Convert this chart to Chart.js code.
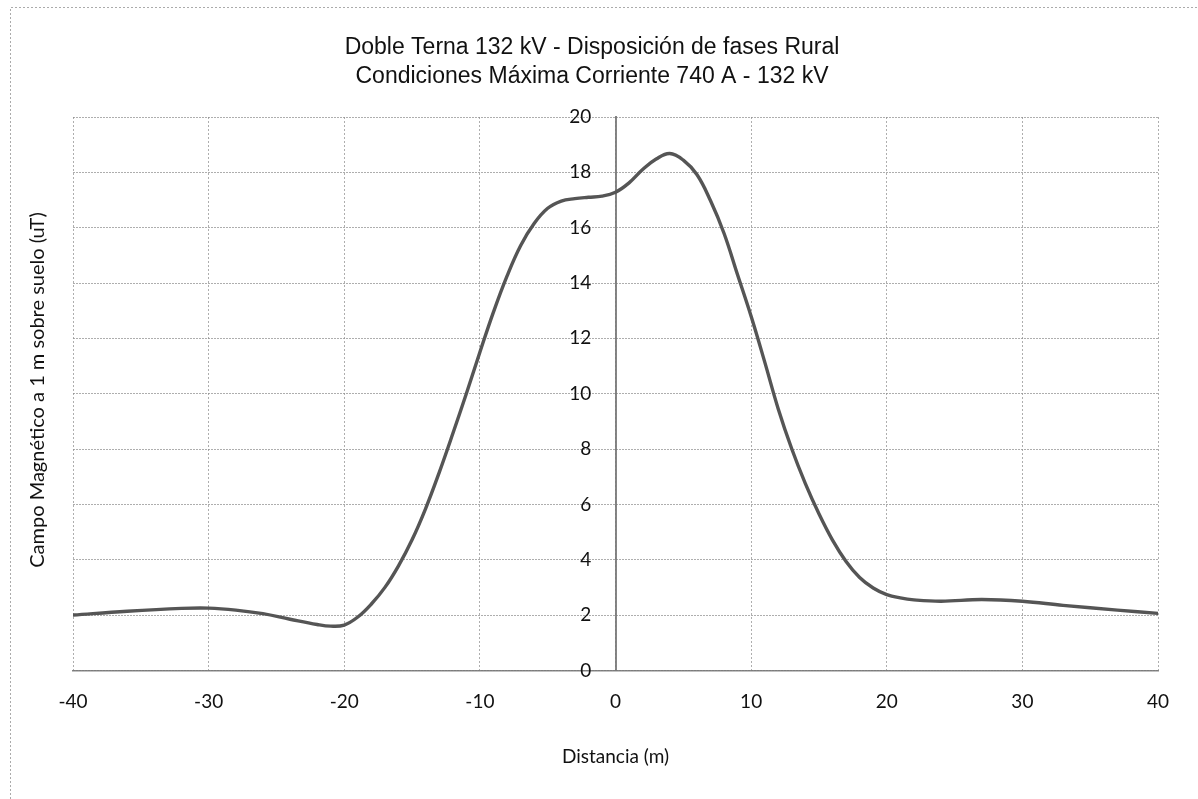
<!DOCTYPE html>
<html>
<head>
<meta charset="utf-8">
<style>
  html, body { margin: 0; padding: 0; background: #ffffff; }
  #wrap { width: 1198px; height: 799px; position: relative; }
  canvas { display: block; }
</style>
<script src="https://cdn.jsdelivr.net/npm/chart.js@4/dist/chart.umd.min.js"></script>
</head>
<body>
<div id="wrap"><canvas id="c" width="1198" height="799"></canvas></div>
<script>
// Distance from the line axis (m) and magnetic field 1 m above ground (uT)
const distancia = [-40, -36, -32, -30, -28, -26, -24, -22, -21, -20, -19, -18, -17, -16, -15, -14, -13, -12, -11, -10,
                   -9, -8, -7, -6, -5, -4, -3, -2, -1, 0, 1, 2, 3, 4, 5, 6, 7, 8, 9, 10,
                   11, 12, 13, 14, 15, 16, 17, 18, 19, 20, 21, 22, 24, 27, 30, 33, 37, 40];
const campo = [2.0, 2.14, 2.24, 2.25, 2.18, 2.05, 1.85, 1.66, 1.6, 1.64, 1.93, 2.4, 3.0, 3.78, 4.72, 5.85, 7.15, 8.55, 10.0, 11.5,
               12.95, 14.25, 15.35, 16.15, 16.7, 16.96, 17.05, 17.1, 17.14, 17.28, 17.62, 18.1, 18.48, 18.68, 18.44, 17.92, 16.98, 15.8, 14.3, 12.8,
               11.15, 9.45, 8.0, 6.75, 5.66, 4.71, 3.94, 3.36, 2.98, 2.74, 2.62, 2.55, 2.5, 2.56, 2.5, 2.35, 2.18, 2.06];

const titulo = ['Doble Terna 132 kV - Disposición de fases Rural', 'Condiciones Máxima Corriente 740 A - 132 kV'];
const tituloEjeX = 'Distancia (m)';
const tituloEjeY = 'Campo Magnético a 1 m sobre suelo (uT)';

const xMin = -40, xMax = 40, xPaso = 10;
const yMin = 0, yMax = 20, yPaso = 2;

const puntos = distancia.map((d, i) => ({ x: d, y: campo[i] }));

const gridColor = 'rgba(140,140,140,0.7)';
const familia = 'Lato, "Open Sans", sans-serif';
const tickFont = { family: familia, size: 19 };

// Chart title, vertical axis title and the outer frame of the figure
const decoracion = {
  id: 'decoracion',
  afterDraw(chart) {
    const ctx = chart.ctx;
    ctx.save();
    ctx.strokeStyle = 'rgba(150,150,150,0.8)';
    ctx.lineWidth = 1;
    ctx.setLineDash([2, 2]);
    ctx.beginPath();
    ctx.moveTo(10.5, 799);
    ctx.lineTo(10.5, 7.5);
    ctx.lineTo(1198, 7.5);
    ctx.stroke();
    ctx.setLineDash([]);

    ctx.fillStyle = '#111';
    ctx.textAlign = 'center';
    ctx.textBaseline = 'middle';
    ctx.font = '23px "Liberation Sans", Arial, sans-serif';
    ctx.fillText(titulo[0], 592, 48);
    ctx.fillText(titulo[1], 592, 77);

    ctx.translate(38, 390);
    ctx.rotate(-Math.PI / 2);
    ctx.font = '20px ' + familia;
    ctx.fillText(tituloEjeY, 0, 0);
    ctx.restore();
  }
};

new Chart(document.getElementById('c'), {
  type: 'line',
  data: {
    datasets: [{
      data: puntos,
      borderColor: '#555555',
      borderWidth: 3.4,
      pointRadius: 0,
      fill: false,
      tension: 0.4
    }]
  },
  options: {
    responsive: false,
    animation: false,
    layout: { padding: { left: 73, right: 40, top: 117, bottom: 27 } },
    plugins: {
      legend: { display: false },
      tooltip: { enabled: false },
      title: { display: false }
    },
    scales: {
      x: {
        type: 'linear',
        position: 'bottom',
        min: xMin, max: xMax,
        ticks: { stepSize: xPaso, color: '#111', font: tickFont, padding: 20, maxRotation: 0 },
        grid: { color: gridColor, lineWidth: 1, drawTicks: false },
        border: { display: true, color: 'rgba(120,120,120,0.9)', width: 1.5, dash: [2, 2] },
        title: { display: true, text: tituloEjeX, color: '#111', font: { family: familia, size: 19 }, padding: { top: 12, bottom: 4 } }
      },
      y: {
        type: 'linear',
        position: { x: 0 },
        min: yMin, max: yMax,
        // labels sit a little to the left of the central axis line
        ticks: { stepSize: yPaso, color: '#111', font: tickFont, callback: (v) => v + '     ' },
        grid: { color: gridColor, lineWidth: 1, drawTicks: false },
        border: { display: true, color: 'rgba(120,120,120,0.9)', width: 2, dash: [2, 1] }
      }
    },
    elements: { line: { borderCapStyle: 'round', borderJoinStyle: 'round' } }
  },
  plugins: [decoracion]
});
</script>
</body>
</html>
